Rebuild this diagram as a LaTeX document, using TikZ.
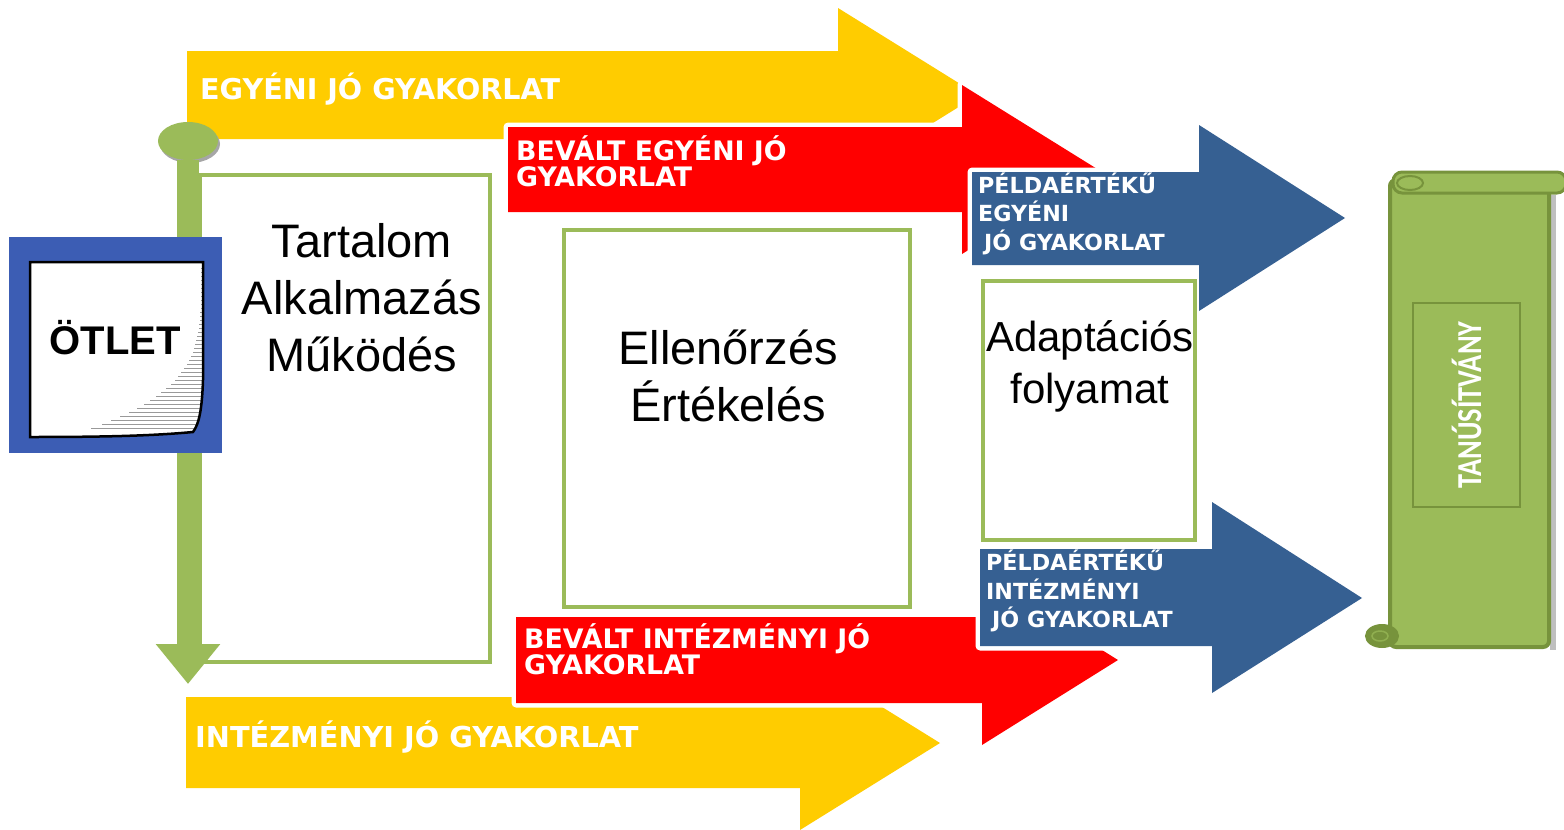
\documentclass[tikz,border=0pt]{standalone}
\usepackage{fontspec}
\setmainfont{Liberation Sans}
\newfontfamily\tagfont{DejaVu Sans}
\newfontfamily\scrollfont[FakeStretch=0.81]{Carlito}
\usetikzlibrary{arrows.meta,shapes.geometric}
\definecolor{idea}{HTML}{3C5DB4}
\definecolor{leaf}{HTML}{9BBB59}
\definecolor{leafdark}{HTML}{77933C}
\definecolor{gold}{HTML}{FFCC00}
\definecolor{navy}{HTML}{366092}
\begin{document}
\begin{tikzpicture}[x=1pt,y=-1pt]
\tikzset{
  stage/.style={draw=leaf,line width=4pt,inner sep=0pt},
  band/.style={preaction={draw=white,line width=9pt,line join=round}},
  tag/.style 2 args={text=white,font=\tagfont\bfseries\fontsize{#1}{#2}\selectfont,anchor=west,align=left,inner sep=0pt},
  big/.style={align=center,inner sep=0pt,font=\fontsize{47}{57}\selectfont}
}
\useasboundingbox (0,0) rectangle (1564,830);

% upper arrows
\fill[band,fill=gold] (187,51) -- (838,51) -- (838,8) -- (978,95) -- (838,182) -- (838,139) -- (187,139) -- cycle;
\fill[band,fill=red] (508,127) -- (962,127) -- (962,85) -- (1098,169.5) -- (962,254) -- (962,212) -- (508,212) -- cycle;
\fill[band,fill=navy] (972,172) -- (1199,172) -- (1199,125) -- (1345,218) -- (1199,311) -- (1199,265) -- (972,265) -- cycle;
% lower arrows
\fill[band,fill=gold] (186,697) -- (800,697) -- (800,656) -- (940,743) -- (800,830) -- (800,788) -- (186,788) -- cycle;
\fill[band,fill=red] (516,617) -- (982,617) -- (982,575) -- (1118,660) -- (982,745) -- (982,703) -- (516,703) -- cycle;
\fill[band,fill=navy] (980,549) -- (1212,549) -- (1212,502) -- (1362,598) -- (1212,693) -- (1212,646) -- (980,646) -- cycle;

\node[tag={28.6}{30}] (egyeni) at (200,89) {EGYÉNI JÓ GYAKORLAT};
\node[tag={26.8}{25}] (bevalt) at (516,161.5) {BEVÁLT EGYÉNI JÓ\\GYAKORLAT};
\node[tag={22.2}{28.5}] (pelda) at (978,213.5) {PÉLDAÉRTÉKŰ\\EGYÉNI\\\hspace*{6pt}JÓ GYAKORLAT};
\node[tag={22.2}{28.5}] (peldaint) at (986,591) {PÉLDAÉRTÉKŰ\\INTÉZMÉNYI\\\hspace*{6pt}JÓ GYAKORLAT};
\node[tag={26.8}{25}] (bevaltint) at (524,649.5) {BEVÁLT INTÉZMÉNYI JÓ\\GYAKORLAT};
\node[tag={28.8}{30}] (intezmenyi) at (195,737) {INTÉZMÉNYI JÓ GYAKORLAT};

% stages
\node[stage,minimum width=290pt,minimum height=487pt] (content) at (345,418.5) {};
\node[stage,minimum width=346pt,minimum height=377pt] (check) at (737,418.5) {};
\node[stage,minimum width=212pt,minimum height=259pt] (adapt) at (1089,410.5) {};
\node[big] (contenttext) at (362,298) {Tartalom\\Alkalmazás\\Működés};
\node[big] (checktext) at (728,376) {Ellenőrzés\\Értékelés};
\node[big,font=\fontsize{42}{52}\selectfont] (adapttext) at (1090,366) {Adaptációs\\folyamat};

% time line
\node[ellipse,fill=leaf,minimum width=60pt,minimum height=38pt,inner sep=0pt,
  preaction={fill=gray!70,transform canvas={xshift=2pt,yshift=-3pt}}] (root) at (188,141) {};
\coordinate (end) at (188,684);
\draw[leaf,line width=22pt,-{Triangle[width=62pt,length=40pt]}] (root.south) -- (end);

% idea
\node[fill=idea,minimum width=213pt,minimum height=216pt,inner sep=0pt] (idea) at (115.5,345) {};
\fill[white] (30,262) -- (203,262) -- (203,380) .. controls (202,410) and (199,424) .. (193,432) .. controls (150,436) and (100,437) .. (30,437) -- cycle;
\begin{scope}
\clip (30,262) -- (203,262) -- (203,380) .. controls (202,410) and (199,424) .. (193,432) .. controls (150,436) and (100,437) .. (30,437) -- cycle;
\foreach \k in {0,...,40}
  \draw[gray!80,line width=0.8pt] (204,{268+4*\k}) -- ++({-3-110*(\k/40)^4},0);
\end{scope}
\draw[line width=2.5pt] (30,262) -- (203,262) -- (203,380) .. controls (202,410) and (199,424) .. (193,432) .. controls (150,436) and (100,437) .. (30,437) -- cycle;
\node[font=\bfseries\fontsize{40}{40}\selectfont,inner sep=0pt] (ideatext) at (115,338) {ÖTLET};

% certificate
\fill[gray!50] (1550,195) rectangle (1556,650);
\filldraw[fill=leaf,draw=leafdark,line width=4pt,rounded corners=6pt] (1390,180) rectangle (1549,647);
\filldraw[fill=leaf,draw=leafdark,line width=3pt,rounded corners=9pt] (1393,172) rectangle (1566,193);
\filldraw[fill=leaf,draw=leafdark,line width=2pt] (1410,183) ellipse (13 and 7);
\filldraw[fill=leafdark,draw=leafdark,line width=2pt] (1382,636) ellipse (16 and 11);
\draw[leaf!70!leafdark,line width=1.5pt] (1380,636) ellipse (8 and 5);
\node[draw=leafdark,line width=2.5pt,minimum width=107pt,minimum height=204pt,inner sep=0pt] (frame) at (1466.5,405) {};
\node[rotate=90,text=white,font=\scrollfont\bfseries\fontsize{35}{35}\selectfont,inner sep=0pt] (cert) at (frame.center) {TANÚSÍTVÁNY};
\end{tikzpicture}
\end{document}
